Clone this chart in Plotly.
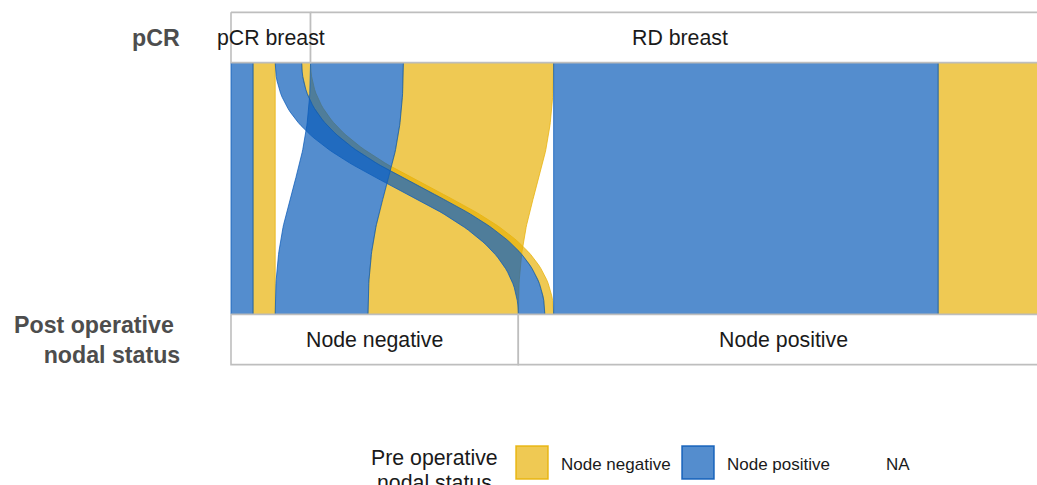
import plotly.graph_objects as go
import numpy as np

# ---------------- data ----------------
pcr_levels = ["pCR breast", "RD breast"]
post_levels = ["Node negative", "Node positive"]
pre_stack = ["Node positive", "Node negative"]  # stacking order inside strata

flow_pcr = ["pCR breast", "pCR breast", "pCR breast", "pCR breast",
            "RD breast", "RD breast", "RD breast", "RD breast"]
flow_post = ["Node negative", "Node negative", "Node positive", "Node positive",
             "Node negative", "Node negative", "Node positive", "Node positive"]
flow_pre = ["Node positive", "Node negative", "Node positive", "Node negative",
            "Node positive", "Node negative", "Node positive", "Node negative"]
flow_n = [5, 5, 6, 2, 21, 34, 87, 25]

axis_titles = ["pCR", "Post operative\u00a0<br>nodal status"]
legend_title = ["Pre operative", "nodal status"]
legend_labels = ["Node negative", "Node positive", "NA"]

# ---------------- styles ----------------
base = {"Node negative": (232, 178, 10), "Node positive": (12, 92, 185)}
ALPHA = 0.7
def rgba(c, a):
    return f"rgba({c[0]},{c[1]},{c[2]},{a})"

W_STRAT = 1 / 6
Y_TOP, Y_BOT = 1, 2
FONT = "Liberation Sans, Arial, sans-serif"
W, H = 1037, 485
PX_PER_N = 4.42
X0PX = 231
YTOP_PX = 37.5
PX_PER_AXIS = 302

# ---------------- positions ----------------
nflow = len(flow_n)
top_pos = [None] * nflow
bot_pos = [None] * nflow

cum = 0.0
strata_top = []
for s in pcr_levels:
    start = cum
    idx = [i for i in range(nflow) if flow_pcr[i] == s]
    idx.sort(key=lambda i: (post_levels.index(flow_post[i]), pre_stack.index(flow_pre[i])))
    for i in idx:
        top_pos[i] = (cum, cum + flow_n[i])
        cum += flow_n[i]
    strata_top.append((s, start, cum))

cum = 0.0
strata_bot = []
for s in post_levels:
    start = cum
    idx = [i for i in range(nflow) if flow_post[i] == s]
    idx.sort(key=lambda i: (pcr_levels.index(flow_pcr[i]), pre_stack.index(flow_pre[i])))
    for i in idx:
        bot_pos[i] = (cum, cum + flow_n[i])
        cum += flow_n[i]
    strata_bot.append((s, start, cum))

# curve
t = np.linspace(0, 1, 80)
k = 0.5
v = 3 * (1 - t) ** 2 * t * k + 3 * (1 - t) * t ** 2 * (1 - k) + t ** 3
h = 3 * (1 - t) * t ** 2 + t ** 3
ya = Y_TOP + W_STRAT / 2
yb = Y_BOT - W_STRAT / 2
yc = ya + (yb - ya) * v

fig = go.Figure()

order = [i for i in range(nflow) if flow_pre[i] == "Node negative"] + \
        [i for i in range(nflow) if flow_pre[i] == "Node positive"]
for i in order:
    a0, a1 = top_pos[i]
    b0, b1 = bot_pos[i]
    xl = a0 + (b0 - a0) * h
    xr = a1 + (b1 - a1) * h
    xs = np.concatenate([xl, xr[::-1], [xl[0]]])
    ys = np.concatenate([yc, yc[::-1], [yc[0]]])
    c = base[flow_pre[i]]
    fig.add_trace(go.Scatter(x=xs, y=ys, mode="lines", fill="toself",
                             fillcolor=rgba(c, ALPHA),
                             line=dict(color=rgba(c, 0.75), width=1),
                             showlegend=False, hoverinfo="skip"))

# strata boxes
annotations = []
for strata, yax in ((strata_top, Y_TOP), (strata_bot, Y_BOT)):
    for name, s0, s1 in strata:
        y0, y1 = yax - W_STRAT / 2, yax + W_STRAT / 2
        fig.add_trace(go.Scatter(x=[s0, s1, s1, s0, s0], y=[y0, y0, y1, y1, y0],
                                 mode="lines", fill="toself", fillcolor="white",
                                 line=dict(color="rgb(190,190,190)", width=1.6),
                                 showlegend=False, hoverinfo="skip"))
        annotations.append(dict(x=(s0 + s1) / 2, y=yax, xref="x", yref="y",
                                text=name, showarrow=False,
                                font=dict(family=FONT, size=21.3, color="#1a1a1a"),
                                xanchor="center", yanchor="middle"))

def px(xp):
    return xp / W
def py(yp):
    return 1 - yp / H

# axis titles
for title, yax in zip(axis_titles, (Y_TOP, Y_BOT)):
    annotations.append(dict(x=px(182), y=yax, xref="paper", yref="y",
                            text=f"<b>{title}</b>", showarrow=False,
                            font=dict(family=FONT, size=23.2, color="#4d4d4d"),
                            xanchor="right", yanchor="middle", align="right"))

# manual legend
annotations.append(dict(x=px(434.5), y=py(458), xref="paper", yref="paper",
                        text=legend_title[0], showarrow=False,
                        font=dict(family=FONT, size=21.3, color="#1a1a1a"),
                        xanchor="center", yanchor="middle"))
annotations.append(dict(x=px(434.5), y=py(483), xref="paper", yref="paper",
                        text=legend_title[1], showarrow=False,
                        font=dict(family=FONT, size=21.3, color="#1a1a1a"),
                        xanchor="center", yanchor="middle"))

shapes = []
key_x = [516, 682, 848]
lab_x = [559, 725, 884]
key_col = [base["Node negative"], base["Node positive"], None]
for kx, lx, lab, c in zip(key_x, lab_x, legend_labels, key_col):
    if c is not None:
        shapes.append(dict(type="rect", xref="paper", yref="paper",
                           x0=px(kx), x1=px(kx + 32), y0=py(479), y1=py(446),
                           fillcolor=rgba(c, ALPHA), line=dict(color=rgba(c, 0.9), width=1.5)))
    annotations.append(dict(x=px(lx), y=py(464), xref="paper", yref="paper",
                            text=lab, showarrow=False,
                            font=dict(family=FONT, size=17, color="#1a1a1a"),
                            xanchor="left", yanchor="middle"))

fig.update_layout(
    width=W, height=H,
    margin=dict(l=0, r=0, t=0, b=0),
    paper_bgcolor="white", plot_bgcolor="white",
    xaxis=dict(range=[-X0PX / PX_PER_N, (W - X0PX) / PX_PER_N], visible=False),
    yaxis=dict(range=[Y_TOP + (H - YTOP_PX) / PX_PER_AXIS, Y_TOP - YTOP_PX / PX_PER_AXIS],
               visible=False),
    annotations=annotations, shapes=shapes, showlegend=False,
)

fig.write_html(
    "out.html",
    config={"displayModeBar": False},
    post_script="document.documentElement.style.overflow='hidden';"
                "document.body.style.margin='0';document.body.style.overflow='hidden';",
)
